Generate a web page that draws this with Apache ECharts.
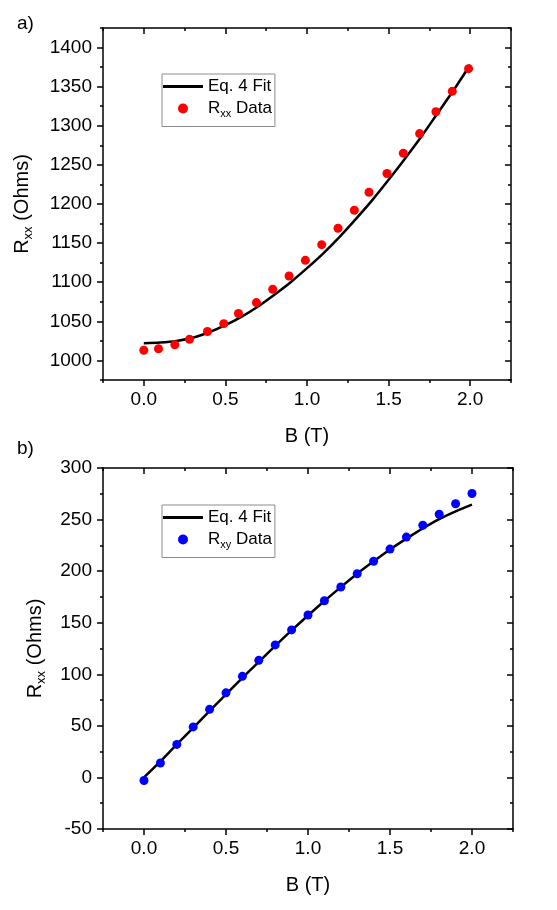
<!DOCTYPE html>
<html>
<head>
<meta charset="utf-8">
<script src="https://cdn.jsdelivr.net/npm/echarts@6/dist/echarts.min.js"></script>
<style>
html,body{margin:0;padding:0;background:#fff;}
#chart{width:557px;height:910px;}
</style>
</head>
<body>
<div id="chart"></div>
<script>
// ---- Panel a) : Rxx vs B ----
const bRxx = [0, 0.09, 0.19, 0.28, 0.39, 0.49, 0.58, 0.69, 0.79, 0.89, 0.99, 1.09, 1.19, 1.29, 1.38, 1.49, 1.59, 1.69, 1.79, 1.89, 1.99];
const rxxData = [1013, 1015, 1020, 1027, 1037, 1047, 1060, 1074, 1091, 1108, 1128, 1148, 1169, 1192, 1215, 1239, 1265, 1290, 1318, 1344, 1373];
const bFit = [0, 0.1, 0.2, 0.3, 0.4, 0.5, 0.6, 0.7, 0.8, 0.9, 1.0, 1.1, 1.2, 1.3, 1.4, 1.5, 1.6, 1.7, 1.8, 1.9, 2.0];
const rxxFit = [1022, 1023, 1025, 1029, 1036, 1045, 1056, 1069, 1084, 1100, 1118, 1137, 1158, 1181, 1205, 1231, 1258, 1286, 1316, 1346, 1378];

// ---- Panel b) : Rxy vs B ----
const bRxy = [0, 0.1, 0.2, 0.3, 0.4, 0.5, 0.6, 0.7, 0.8, 0.9, 1.0, 1.1, 1.2, 1.3, 1.4, 1.5, 1.6, 1.7, 1.8, 1.9, 2.0];
const rxyData = [-3, 14, 32, 49, 66, 82, 98, 113.5, 128.5, 143, 157.5, 171.3, 184.6, 197.5, 209.6, 221.4, 233, 244.5, 255.2, 265.3, 275.3];
const rxyFit = [0, 15.5, 32, 48, 64.5, 80.5, 96.5, 112, 127.5, 142.5, 157, 171, 184.5, 197.5, 209.5, 221, 231.5, 241.5, 250.5, 258, 264.5];

// ---- Tick labels ----
const xTicks = [0, 0.5, 1.0, 1.5, 2.0];
const yTicksA = [1000, 1050, 1100, 1150, 1200, 1250, 1300, 1350, 1400];
const yTicksB = [-50, 0, 50, 100, 150, 200, 250, 300];

const FONT = "'Liberation Sans', Arial, sans-serif";
const nameRich = {
  r: {fontSize: 20, fontFamily: FONT, color: '#000', lineHeight: 26, verticalAlign: 'middle'},
  s: {fontSize: 13, fontFamily: FONT, color: '#000', lineHeight: 13, verticalAlign: 'bottom'}
};
const legRich = {
  r: {fontSize: 17, fontFamily: FONT, color: '#000', lineHeight: 22, verticalAlign: 'middle'},
  s: {fontSize: 11, fontFamily: FONT, color: '#000', lineHeight: 11, verticalAlign: 'bottom'}
};

function mkAxes(dim, grid, min, max, majors, minorInterval, fmt, name, nameGap) {
  const pos = dim === 'x' ? ['bottom', 'top'] : ['left', 'right'];
  const tickStyle = {color: '#000', width: 1.5};
  const base = {
    gridIndex: grid, type: 'value', min: min, max: max,
    splitLine: {show: false},
    axisLine: {show: false, onZero: false},
    axisLabel: {show: false},
    axisTick: {show: false}
  };
  const line = {show: true, onZero: false, lineStyle: {color: '#000', width: 1.5}};
  return [
    Object.assign({}, base, {
      position: pos[0], axisLine: line,
      axisTick: {show: true, customValues: majors, length: 6, lineStyle: tickStyle},
      axisLabel: {show: true, customValues: majors, formatter: fmt, fontSize: 19, fontFamily: FONT, color: '#000', margin: dim === 'x' ? 10 : 11},
      name: name, nameLocation: 'middle', nameGap: nameGap,
      nameTextStyle: {fontSize: 20, fontFamily: FONT, color: '#000', rich: nameRich}
    }),
    Object.assign({}, base, {
      position: pos[0], interval: minorInterval,
      axisTick: {show: true, length: 3, lineStyle: tickStyle}
    }),
    Object.assign({}, base, {
      position: pos[1], axisLine: line,
      axisTick: {show: true, inside: true, customValues: majors, length: 6, lineStyle: tickStyle}
    }),
    Object.assign({}, base, {
      position: pos[1], interval: minorInterval,
      axisTick: {show: true, inside: true, length: 3, lineStyle: tickStyle}
    })
  ];
}

const xfmt = v => v.toFixed(1);
const yfmt = v => String(v);

const xAxis = [].concat(
  mkAxes('x', 0, -0.25, 2.25, xTicks, 0.25, xfmt, 'B (T)', 46),
  mkAxes('x', 1, -0.25, 2.25, xTicks, 0.25, xfmt, 'B (T)', 46)
);
const yAxis = [].concat(
  mkAxes('y', 0, 975, 1425, yTicksA, 25, yfmt, '{r|R}{s|xx}{r| (Ohms)}', 68),
  mkAxes('y', 1, -50, 300, yTicksB, 25, yfmt, '{r|R}{s|xx}{r| (Ohms)}', 55)
);
yAxis[0].nameRotate = 90;
yAxis[4].nameRotate = 90;

function zip(a, b) { return a.map((v, i) => [v, b[i]]); }

const legendNames = {'Eq. 4 Fit': '{r|Eq. 4 Fit}', 'Rxx Data': '{r|R}{s|xx}{r| Data}', 'Rxy Data': '{r|R}{s|xy}{r| Data}'};
function mkLegend(top, dataName) {
  return {
    orient: 'vertical', left: 162, top: top,
    data: [{name: 'Eq. 4 Fit', icon: 'path://M0 0H40V3H0Z'}, {name: dataName, icon: 'circle'}],
    itemWidth: 40, itemHeight: 10, itemGap: 5,
    padding: [4, 3, 7, 1],
    borderColor: '#8c8c8c', borderWidth: 1, backgroundColor: '#fff',
    selectedMode: false,
    formatter: n => legendNames[n],
    textStyle: {fontSize: 17, fontFamily: FONT, color: '#000', rich: legRich}
  };
}

const option = {
  backgroundColor: '#fff',
  animation: false,
  grid: [
    {left: 103, top: 28, width: 408, height: 352},
    {left: 103, top: 468, width: 410, height: 361}
  ],
  xAxis: xAxis,
  yAxis: yAxis,
  legend: [mkLegend(74, 'Rxx Data'), mkLegend(505, 'Rxy Data')],
  graphic: [
    {type: 'text', left: 17, top: 14, style: {text: 'a)', fontSize: 19, fontFamily: FONT, fill: '#000'}},
    {type: 'text', left: 17, top: 439, style: {text: 'b)', fontSize: 19, fontFamily: FONT, fill: '#000'}}
  ],
  series: [
    {name: 'Eq. 4 Fit', type: 'line', xAxisIndex: 0, yAxisIndex: 0, data: zip(bFit, rxxFit), smooth: 0.3, symbol: 'none',
      lineStyle: {color: '#000', width: 2.5}, itemStyle: {color: '#000'}, z: 2},
    {name: 'Rxx Data', type: 'scatter', xAxisIndex: 0, yAxisIndex: 0, data: zip(bRxx, rxxData), symbolSize: 9,
      itemStyle: {color: '#ff0000', opacity: 1}, z: 3},
    {name: 'Eq. 4 Fit', type: 'line', xAxisIndex: 4, yAxisIndex: 4, data: zip(bFit, rxyFit), smooth: 0.3, symbol: 'none',
      lineStyle: {color: '#000', width: 2.5}, itemStyle: {color: '#000'}, z: 2},
    {name: 'Rxy Data', type: 'scatter', xAxisIndex: 4, yAxisIndex: 4, data: zip(bRxy, rxyData), symbolSize: 9,
      itemStyle: {color: '#0000ff', opacity: 1}, z: 3}
  ]
};

const chart = echarts.init(document.getElementById('chart'), null, {renderer: 'canvas'});
chart.setOption(option);
</script>
</body>
</html>
